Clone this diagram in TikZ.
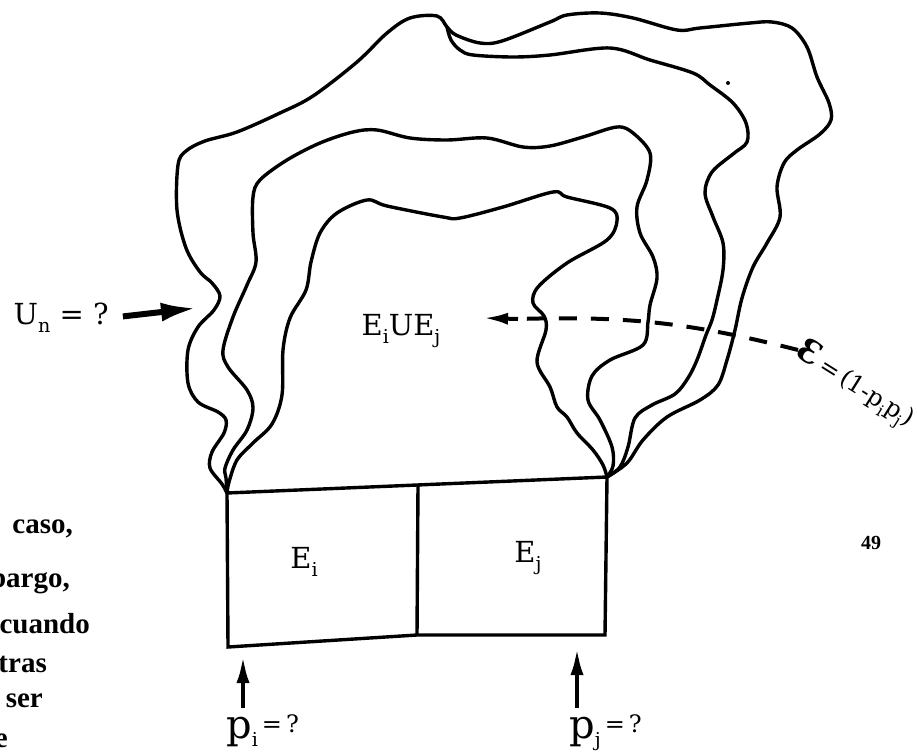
\documentclass[tikz,border=0pt]{standalone}
\usepackage{fontspec}
\usetikzlibrary{arrows.meta}
\newfontfamily\dvserif{DejaVu Serif}
\newfontfamily\pageserif{Liberation Serif}
\newcommand{\lsub}[1]{\raisebox{-0.28em}{\scalebox{0.66}{#1}}}
\begin{document}
\begin{tikzpicture}[x=1pt,y=-1pt,
 wave/.style={line width=3.4pt,line join=round,line cap=round},
 boxline/.style={line width=3.4pt,line join=miter},
 lbl/.style={inner sep=0pt,font=\dvserif\fontsize{29}{34}\selectfont},
 pagetxt/.style={inner sep=0pt,anchor=base east,font=\pageserif\bfseries\fontsize{29}{32}\selectfont},
 uparrow/.style={line width=4.5pt,-{Latex[length=28pt,width=13pt]}},
]
\useasboundingbox (0,0) rectangle (917,752);
\fill[white] (0,0) rectangle (917,752);

% box corners
\coordinate (TL) at (227,493);
\coordinate (TM) at (418,485);
\coordinate (TR) at (607,477);
\coordinate (BL) at (228,647);
\coordinate (BM) at (417,635);
\coordinate (BR) at (605,635);
\draw[boxline] (TL) -- (TR) -- (BR) -- (BM) -- (BL) -- cycle;
\draw[boxline] (TM) -- (BM);

% outer contour
\draw[wave] plot[smooth,tension=0.55] coordinates {(TL) (222,484) (210,468) (212,452) (224,433) (226,420) (218,412) (198,402) (188,383) (188,350) (198,327) (214,310) (220,296) (212,283) (200,272) (186,248) (177,210) (178,165) (186,151) (205,141) (237,132) (280,113) (313,96) (357,62) (387,33) (410,18) (437,16) (447,27) (456,35) (480,43) (502,41) (550,22) (567,15) (600,13) (633,18) (677,30) (700,28) (750,23) (772,22) (792,28) (807,47) (817,77) (829,103) (831,120) (820,134) (797,150) (784,163) (777,187) (780,217) (767,243) (753,267) (742,298) (735,330) (727,360) (718,385) (700,400) (667,417) (643,440) (627,463) (TR)};
% branch from the top notch
\draw[wave] plot[smooth,tension=0.55] coordinates {(447,27) (451,40) (460,50) (473,55) (513,57) (550,55) (610,48) (650,60) (693,73) (710,85) (733,103) (746,123) (747,142) (733,154) (712,172) (705,193) (713,217) (723,243) (723,270) (717,300) (712,320) (706,335) (697,360) (688,378) (675,394) (652,405) (635,418) (628,447) (620,467) (TR)};
% middle contour
\draw[wave] plot[smooth,tension=0.55] coordinates {(TL) (226,478) (225,468) (233,450) (247,430) (253,408) (247,390) (228,367) (223,350) (233,317) (247,285) (256,262) (253,233) (253,197) (260,180) (287,160) (320,143) (353,132) (377,130) (410,138) (447,140) (487,138) (523,147) (550,146) (583,137) (617,127) (633,133) (650,153) (647,180) (637,207) (640,233) (653,257) (657,278) (650,305) (648,322) (643,345) (610,360) (592,376) (588,400) (600,420) (612,447) (613,466) (TR)};
% inner contour
\draw[wave] plot[smooth,tension=0.55] coordinates {(TL) (229,482) (237,460) (253,443) (272,424) (282,395) (283,350) (290,318) (306,290) (311,262) (320,233) (337,213) (367,200) (387,206) (443,217) (460,218) (503,207) (553,192) (567,197) (610,208) (617,221) (607,240) (567,263) (538,287) (533,303) (544,316) (546,330) (537,362) (550,387) (557,407) (567,417) (577,433) (593,450) (603,465) (TR)};
\fill (728,83) circle (2);

% labels
\node[lbl] (Ei) at (304,562) {E\lsub{i}};
\node[lbl] (Ej) at (528,558) {E\lsub{j}};
\node[lbl] (union) at (401,331) {E\lsub{i}UE\lsub{j}};
\node[lbl,anchor=east] (Un) at (109,318) {U\lsub{n} = ?};
\coordinate (UnTip) at (197,308);
\draw[line width=6pt,-{Latex[length=36pt,width=19pt]},shorten <=14pt] (Un.east) -- (UnTip);

\node[lbl,anchor=base west] (pi) at (226,738) {{\fontsize{40}{40}\selectfont p}\lsub{i}\raisebox{6pt}{\fontsize{24}{24}\selectfont\,=\,?}};
\node[lbl,anchor=base west] (pj) at (569,738) {{\fontsize{40}{40}\selectfont p}\lsub{j}\raisebox{6pt}{\fontsize{24}{24}\selectfont\,=\,?}};
\coordinate (piTip) at (243,655);
\coordinate (pjTip) at (577,647);
\draw[uparrow] ([shift={(17,-6)}]pi.north west) -- (piTip);
\draw[uparrow] ([shift={(8,-6)}]pj.north west) -- (pjTip);

% epsilon label and dashed arrow
\node[rotate=-32,anchor=west,inner sep=0pt] (eps) at (798,350) {{\dvserif\bfseries\fontsize{32}{32}\selectfont Ɛ}{\dvserif\fontsize{24}{26}\selectfont\,=\,(1-p\lsub{i}p\lsub{j})}};
\coordinate (uTip) at (483,318);
\coordinate (uHead) at (518,319);
\draw[line width=4pt,-{Latex[length=25pt,width=12pt]}] (uHead) -- (uTip);
\draw[line width=4pt,dash pattern=on 18pt off 14pt] (eps.west) to[bend right=8] (uHead);

% page text fragments
\node[pagetxt] (t1) at (73,533) {caso,};
\node[pagetxt] (t2) at (70,587) {bargo,};
\node[pagetxt] (t3) at (90,633) {cuando};
\node[pagetxt] (t4) at (47,672) {tras};
\node[pagetxt] (t5) at (43,707) {ser};
\node[pagetxt] (t6) at (8,747) {e};
\node[inner sep=0pt,font=\pageserif\bfseries\fontsize{20}{20}\selectfont] (pg) at (871,543) {49};
\end{tikzpicture}
\end{document}
